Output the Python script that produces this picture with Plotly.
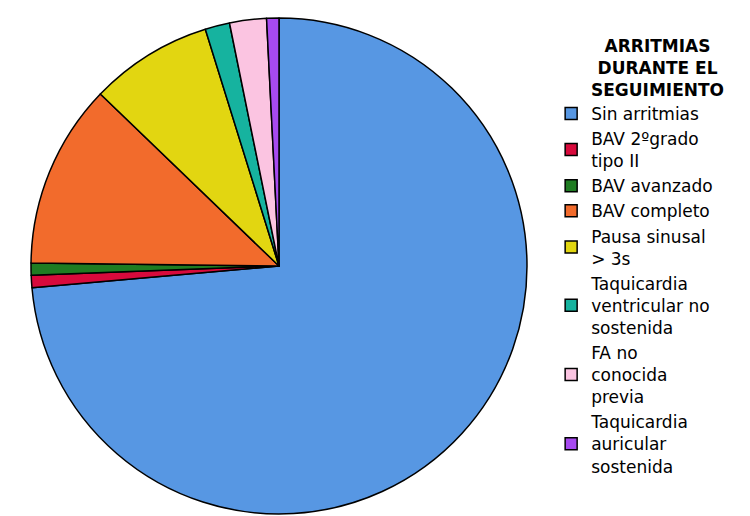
import plotly.graph_objects as go

titulo = "<b>ARRITMIAS<br>DURANTE EL<br>SEGUIMIENTO</b>"
categorias = [
    "Sin arritmias",
    "BAV 2ºgrado<br>tipo II",
    "BAV avanzado",
    "BAV completo",
    "Pausa sinusal<br>> 3s",
    "Taquicardia<br>ventricular no<br>sostenida",
    "FA no<br>conocida<br>previa",
    "Taquicardia<br>auricular<br>sostenida",
]
pacientes = [92, 1, 1, 15, 10, 2, 3, 1]
colores = ["#5797e3", "#d80a3c", "#1f7c22", "#f26b2c", "#e2d611",
           "#16b39f", "#fbc4e1", "#a74af0"]

# the page body adds an 8px margin, so the figure is drawn 8px smaller
W, H = 742, 508

fig = go.Figure(go.Pie(
    labels=categorias,
    values=pacientes,
    sort=False,
    direction="clockwise",
    rotation=0,
    textinfo="none",
    hoverinfo="label+value+percent",
    marker=dict(colors=colores, line=dict(color="black", width=1.5)),
    domain=dict(x=[0, 542 / W], y=[0, 1]),
))

# legend title drawn as a centred annotation above the entries
fig.add_annotation(
    text=titulo, showarrow=False,
    xref="paper", yref="paper",
    x=(657 - 8) / W, xanchor="center",
    y=0.968, yanchor="top",
    align="center",
    font=dict(size=17, color="black"),
)

fig.update_layout(
    width=W,
    height=H,
    margin=dict(l=0, r=0, t=10, b=2),
    paper_bgcolor="white",
    plot_bgcolor="white",
    font=dict(family="DejaVu Sans, Verdana, sans-serif", color="black"),
    legend=dict(
        font=dict(size=17),
        x=0.732, xanchor="left",
        y=0.843, yanchor="top",
        tracegroupgap=0,
        itemwidth=30,
    ),
    showlegend=True,
)

fig.write_html("out.html")
